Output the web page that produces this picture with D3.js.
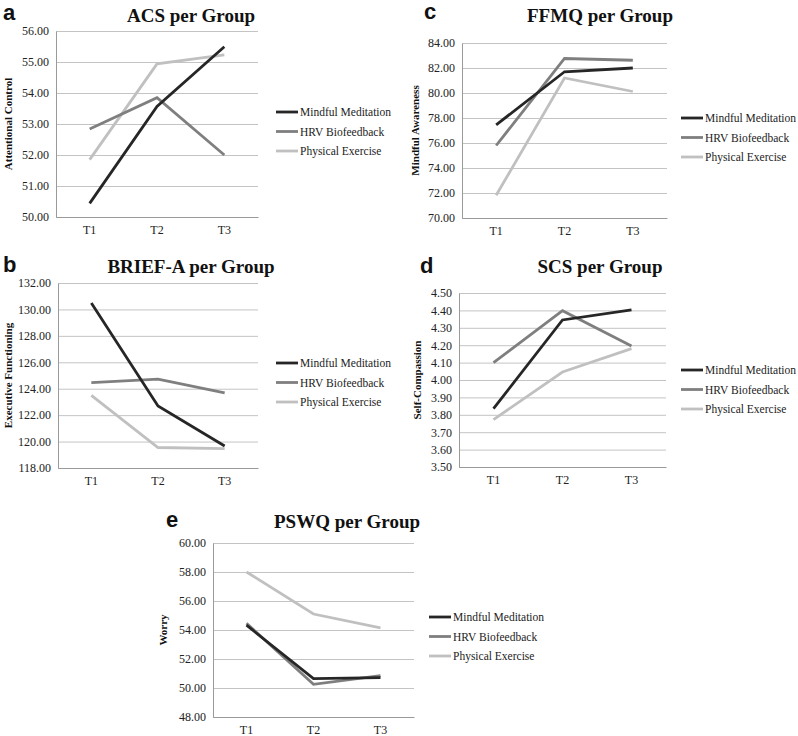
<!DOCTYPE html>
<html>
<head>
<meta charset="utf-8">
<script src="https://cdn.jsdelivr.net/npm/d3@7"></script>
<style>
  body { margin: 0; background: #fff; }
</style>
</head>
<body>
<div id="chart"></div>
<script>
// data
var times = ["T1", "T2", "T3"];
var groups = ["Mindful Meditation", "HRV Biofeedback", "Physical Exercise"];
var colors = ["#262626", "#7f7f7f", "#c0c0c0"];

var acsMindful = [50.44, 53.57, 55.49];
var acsHrv = [52.84, 53.85, 52.00];
var acsPhysical = [51.85, 54.94, 55.23];
var acsTicks = [50, 51, 52, 53, 54, 55, 56];

var briefMindful = [130.48, 122.70, 119.66];
var briefHrv = [124.46, 124.73, 123.68];
var briefPhysical = [123.50, 119.55, 119.46];
var briefTicks = [118, 120, 122, 124, 126, 128, 130, 132];

var ffmqMindful = [77.45, 81.70, 82.00];
var ffmqHrv = [75.80, 82.76, 82.62];
var ffmqPhysical = [71.82, 81.20, 80.12];
var ffmqTicks = [70, 72, 74, 76, 78, 80, 82, 84];

var scsMindful = [3.835, 4.345, 4.403];
var scsHrv = [4.100, 4.398, 4.195];
var scsPhysical = [3.772, 4.046, 4.180];
var scsTicks = [3.5, 3.6, 3.7, 3.8, 3.9, 4.0, 4.1, 4.2, 4.3, 4.4, 4.5];

var pswqMindful = [54.33, 50.65, 50.72];
var pswqHrv = [54.47, 50.25, 50.85];
var pswqPhysical = [58.00, 55.10, 54.15];
var pswqTicks = [48, 50, 52, 54, 56, 58, 60];

var W = 798, H = 736;
var svg = d3.select("#chart").append("svg")
  .attr("width", W).attr("height", H);

// panel placement
var panels = [
  { letter: "a", title: "ACS per Group", ylabel: "Attentional Control",
    series: [acsMindful, acsHrv, acsPhysical], ticks: acsTicks, fmt: ".2f",
    left: 56, right: 258, top: 31, bottom: 217, tx: 191, ty: 22, lx: 3, ly: 20, yx: 8, legx: 276, legy: 112 },
  { letter: "b", title: "BRIEF-A per Group", ylabel: "Executive Functioning",
    series: [briefMindful, briefHrv, briefPhysical], ticks: briefTicks, fmt: ".2f",
    left: 58, right: 258, top: 283, bottom: 468, tx: 191, ty: 273, lx: 3, ly: 272, yx: 8, legx: 276, legy: 363 },
  { letter: "c", title: "FFMQ per Group", ylabel: "Mindful Awareness",
    series: [ffmqMindful, ffmqHrv, ffmqPhysical], ticks: ffmqTicks, fmt: ".2f",
    left: 462, right: 667, top: 43, bottom: 218, tx: 600, ty: 22, lx: 424, ly: 19, yx: 415, legx: 681, legy: 118 },
  { letter: "d", title: "SCS per Group", ylabel: "Self-Compassion",
    series: [scsMindful, scsHrv, scsPhysical], ticks: scsTicks, fmt: ".2f",
    left: 459, right: 666, top: 293, bottom: 467, tx: 600, ty: 273, lx: 420, ly: 273, yx: 417, legx: 681, legy: 370 },
  { letter: "e", title: "PSWQ per Group", ylabel: "Worry",
    series: [pswqMindful, pswqHrv, pswqPhysical], ticks: pswqTicks, fmt: ".2f",
    left: 213, right: 414, top: 543, bottom: 717, tx: 347, ty: 528, lx: 166, ly: 527, yx: 163, legx: 429, legy: 617 }
];

panels.forEach(function(p) {
  var g = svg.append("g");

  var x = d3.scaleBand().domain(times).range([p.left, p.right]);
  var y = d3.scaleLinear()
    .domain(d3.extent(p.ticks))
    .range([p.bottom, p.top]);

  // gridlines
  g.append("g")
    .attr("transform", `translate(${p.left},0)`)
    .call(d3.axisLeft(y).tickValues(p.ticks).tickSize(-(p.right - p.left)).tickFormat(""))
    .call(function(a) {
      a.select(".domain").remove();
      a.selectAll("line").attr("stroke", "#c4c4c4").attr("stroke-width", 1);
    });

  // y axis labels
  g.append("g")
    .attr("transform", `translate(${p.left},0)`)
    .call(d3.axisLeft(y).tickValues(p.ticks).tickSize(0).tickPadding(7).tickFormat(d3.format(p.fmt)))
    .call(function(a) {
      a.select(".domain").attr("stroke", "#9a9a9a");
      a.selectAll("text")
        .style("font-family", "'Liberation Serif', 'Times New Roman', serif")
        .style("font-size", "12px")
        .attr("fill", "#222");
    });

  // x axis
  g.append("g")
    .attr("transform", `translate(0,${p.bottom})`)
    .call(d3.axisBottom(x).tickSize(0).tickPadding(8))
    .call(function(a) {
      a.select(".domain").attr("stroke", "#9a9a9a");
      a.selectAll("text")
        .style("font-family", "'Liberation Serif', 'Times New Roman', serif")
        .style("font-size", "12px")
        .attr("fill", "#222");
    });

  // lines
  var line = d3.line()
    .x(function(d, i) { return x(times[i]) + x.bandwidth() / 2; })
    .y(function(d) { return y(d); });

  // draw light first so darker lines sit on top
  [2, 1, 0].forEach(function(k) {
    g.append("path")
      .datum(p.series[k])
      .attr("fill", "none")
      .attr("stroke", colors[k])
      .attr("stroke-width", 2.8)
      .attr("stroke-linejoin", "miter")
      .attr("d", line);
  });

  // title
  g.append("text")
    .attr("x", p.tx).attr("y", p.ty)
    .attr("text-anchor", "middle")
    .style("font-family", "'Liberation Serif', 'Times New Roman', serif")
    .style("font-weight", "bold")
    .style("font-size", "19px")
    .attr("fill", "#111")
    .text(p.title);

  // panel letter
  g.append("text")
    .attr("x", p.lx).attr("y", p.ly)
    .style("font-family", "'Liberation Sans', Arial, sans-serif")
    .style("font-weight", "bold")
    .style("font-size", "22px")
    .attr("fill", "#111")
    .text(p.letter);

  // y axis title
  g.append("text")
    .attr("transform", `translate(${p.yx},${(p.top + p.bottom) / 2}) rotate(-90)`)
    .attr("text-anchor", "middle")
    .attr("dy", "0.35em")
    .style("font-family", "'Liberation Serif', 'Times New Roman', serif")
    .style("font-weight", "bold")
    .style("font-size", "11px")
    .attr("fill", "#111")
    .text(p.ylabel);

  // legend
  var leg = g.append("g");
  groups.forEach(function(name, k) {
    var ly = p.legy + k * 19.5;
    leg.append("line")
      .attr("x1", p.legx).attr("x2", p.legx + 22)
      .attr("y1", ly).attr("y2", ly)
      .attr("stroke", colors[k])
      .attr("stroke-width", 2.8);
    leg.append("text")
      .attr("x", p.legx + 24).attr("y", ly)
      .attr("dy", "0.35em")
      .style("font-family", "'Liberation Serif', 'Times New Roman', serif")
      .style("font-size", "11.5px")
      .attr("fill", "#222")
      .text(name);
  });
});
</script>
</body>
</html>
